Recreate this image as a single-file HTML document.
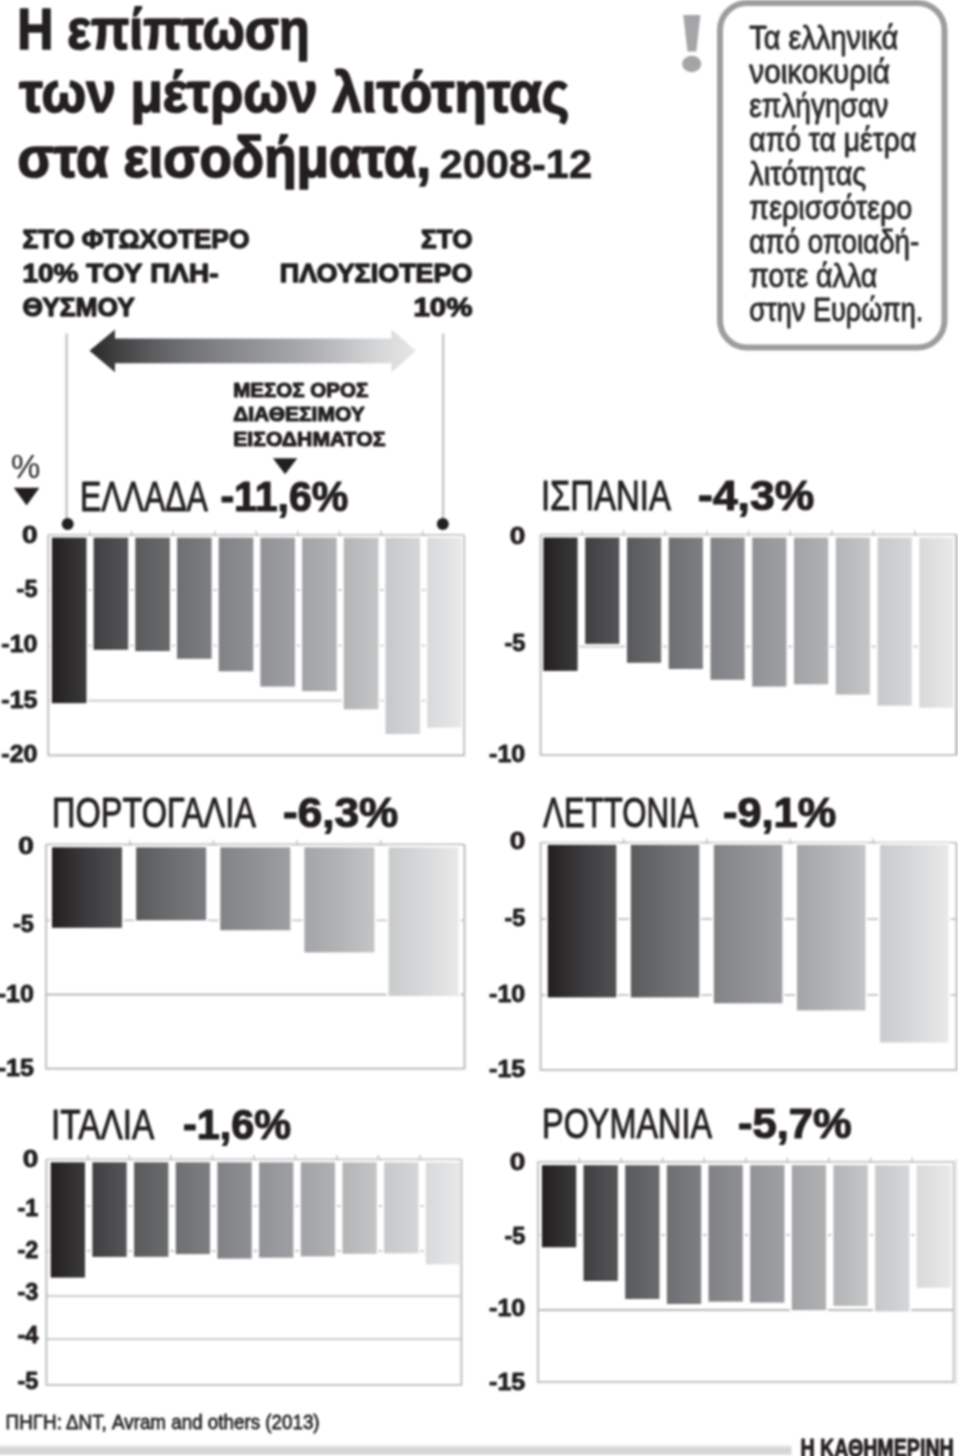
<!DOCTYPE html>
<html lang="el">
<head>
<meta charset="utf-8">
<title>Η επίπτωση των μέτρων λιτότητας στα εισοδήματα, 2008-12</title>
<style>
html,body{margin:0;padding:0;background:#fff;}
body{width:958px;height:1456px;overflow:hidden;}
svg{display:block;font-family:"Liberation Sans", "DejaVu Sans", sans-serif;}
text{white-space:pre;}
</style>
</head>
<body>
<svg width="958" height="1456" viewBox="0 0 958 1456">
<defs>
<linearGradient id="g_gr" gradientUnits="userSpaceOnUse" x1="51.9" y1="0" x2="461.8" y2="0">
<stop offset="0.0" stop-color="#231f20"/>
<stop offset="0.1" stop-color="#3f3f41"/>
<stop offset="0.2" stop-color="#58595b"/>
<stop offset="0.3" stop-color="#6d6e70"/>
<stop offset="0.4" stop-color="#808184"/>
<stop offset="0.5" stop-color="#909194"/>
<stop offset="0.6" stop-color="#a0a1a4"/>
<stop offset="0.7" stop-color="#b1b2b4"/>
<stop offset="0.8" stop-color="#c5c6c8"/>
<stop offset="0.9" stop-color="#d5d6d7"/>
<stop offset="1.0" stop-color="#e9e9ea"/>
</linearGradient>
<linearGradient id="g_es" gradientUnits="userSpaceOnUse" x1="543.4" y1="0" x2="953.5" y2="0">
<stop offset="0.0" stop-color="#231f20"/>
<stop offset="0.1" stop-color="#3f3f41"/>
<stop offset="0.2" stop-color="#58595b"/>
<stop offset="0.3" stop-color="#6d6e70"/>
<stop offset="0.4" stop-color="#808184"/>
<stop offset="0.5" stop-color="#909194"/>
<stop offset="0.6" stop-color="#a0a1a4"/>
<stop offset="0.7" stop-color="#b1b2b4"/>
<stop offset="0.8" stop-color="#c5c6c8"/>
<stop offset="0.9" stop-color="#d5d6d7"/>
<stop offset="1.0" stop-color="#e9e9ea"/>
</linearGradient>
<linearGradient id="g_pt" gradientUnits="userSpaceOnUse" x1="52.0" y1="0" x2="458.6" y2="0">
<stop offset="0.0" stop-color="#231f20"/>
<stop offset="0.1" stop-color="#3f3f41"/>
<stop offset="0.2" stop-color="#58595b"/>
<stop offset="0.3" stop-color="#6d6e70"/>
<stop offset="0.4" stop-color="#808184"/>
<stop offset="0.5" stop-color="#909194"/>
<stop offset="0.6" stop-color="#a0a1a4"/>
<stop offset="0.7" stop-color="#b1b2b4"/>
<stop offset="0.8" stop-color="#c5c6c8"/>
<stop offset="0.9" stop-color="#d5d6d7"/>
<stop offset="1.0" stop-color="#e9e9ea"/>
</linearGradient>
<linearGradient id="g_lv" gradientUnits="userSpaceOnUse" x1="547.8" y1="0" x2="948.5" y2="0">
<stop offset="0.0" stop-color="#231f20"/>
<stop offset="0.1" stop-color="#3f3f41"/>
<stop offset="0.2" stop-color="#58595b"/>
<stop offset="0.3" stop-color="#6d6e70"/>
<stop offset="0.4" stop-color="#808184"/>
<stop offset="0.5" stop-color="#909194"/>
<stop offset="0.6" stop-color="#a0a1a4"/>
<stop offset="0.7" stop-color="#b1b2b4"/>
<stop offset="0.8" stop-color="#c5c6c8"/>
<stop offset="0.9" stop-color="#d5d6d7"/>
<stop offset="1.0" stop-color="#e9e9ea"/>
</linearGradient>
<linearGradient id="g_it" gradientUnits="userSpaceOnUse" x1="50.7" y1="0" x2="460.1" y2="0">
<stop offset="0.0" stop-color="#231f20"/>
<stop offset="0.1" stop-color="#3f3f41"/>
<stop offset="0.2" stop-color="#58595b"/>
<stop offset="0.3" stop-color="#6d6e70"/>
<stop offset="0.4" stop-color="#808184"/>
<stop offset="0.5" stop-color="#909194"/>
<stop offset="0.6" stop-color="#a0a1a4"/>
<stop offset="0.7" stop-color="#b1b2b4"/>
<stop offset="0.8" stop-color="#c5c6c8"/>
<stop offset="0.9" stop-color="#d5d6d7"/>
<stop offset="1.0" stop-color="#e9e9ea"/>
</linearGradient>
<linearGradient id="g_ro" gradientUnits="userSpaceOnUse" x1="541.9" y1="0" x2="951.0" y2="0">
<stop offset="0.0" stop-color="#231f20"/>
<stop offset="0.1" stop-color="#3f3f41"/>
<stop offset="0.2" stop-color="#58595b"/>
<stop offset="0.3" stop-color="#6d6e70"/>
<stop offset="0.4" stop-color="#808184"/>
<stop offset="0.5" stop-color="#909194"/>
<stop offset="0.6" stop-color="#a0a1a4"/>
<stop offset="0.7" stop-color="#b1b2b4"/>
<stop offset="0.8" stop-color="#c5c6c8"/>
<stop offset="0.9" stop-color="#d5d6d7"/>
<stop offset="1.0" stop-color="#e9e9ea"/>
</linearGradient>
<linearGradient id="g_arrow" gradientUnits="userSpaceOnUse" x1="89" y1="0" x2="416" y2="0">
<stop offset="0" stop-color="#2a2728"/><stop offset="0.1" stop-color="#444446"/><stop offset="0.2" stop-color="#5d5e60"/><stop offset="0.3" stop-color="#717274"/><stop offset="0.4" stop-color="#828386"/><stop offset="0.5" stop-color="#919295"/><stop offset="0.6" stop-color="#a0a1a4"/><stop offset="0.7" stop-color="#b1b2b4"/><stop offset="0.8" stop-color="#c5c6c8"/><stop offset="0.9" stop-color="#d8d9da"/><stop offset="1" stop-color="#e6e6e7"/>
</linearGradient>
<linearGradient id="g_foot" x1="0" y1="0" x2="0" y2="1">
<stop offset="0" stop-color="#f0f0f0"/><stop offset="0.45" stop-color="#d2d2d3"/><stop offset="1" stop-color="#dcdcdd"/>
</linearGradient>
<filter id="soft" filterUnits="userSpaceOnUse" x="-12" y="-12" width="982" height="1480" color-interpolation-filters="sRGB"><feGaussianBlur stdDeviation="0.8"/></filter>
</defs>
<g filter="url(#soft)">
<rect x="-12" y="-12" width="982" height="1480" fill="#ffffff"/>
<g id="title" font-weight="bold" fill="#231f20">
<text x="17.2" y="48.6" font-size="57" font-weight="bold" text-anchor="start" fill="#231f20" textLength="292.5" lengthAdjust="spacingAndGlyphs" stroke="#231f20" stroke-width="1.7" stroke-linejoin="round">Η επίπτωση</text>
<text x="19.3" y="112.0" font-size="57" font-weight="bold" text-anchor="start" fill="#231f20" textLength="550" lengthAdjust="spacingAndGlyphs" stroke="#231f20" stroke-width="1.7" stroke-linejoin="round">των μέτρων λιτότητας</text>
<text x="17.6" y="176.6" font-size="57" font-weight="bold" text-anchor="start" fill="#231f20" textLength="413.5" lengthAdjust="spacingAndGlyphs" stroke="#231f20" stroke-width="1.7" stroke-linejoin="round">στα εισοδήματα,</text>
<text x="439.6" y="178.2" font-size="40.5" font-weight="bold" text-anchor="start" fill="#231f20" textLength="152.5" lengthAdjust="spacingAndGlyphs" stroke="#231f20" stroke-width="0.6" stroke-linejoin="round">2008-12</text>
</g>
<g id="callout">
<rect x="720" y="3" width="224.5" height="344.6" rx="27" ry="27" fill="#fff" stroke="#9d9d9f" stroke-width="6"/>
<path d="M683.3 15 L700.4 15 L696.3 51.5 L687.5 51.5 Z" fill="#a5a5a8"/>
<ellipse cx="691.7" cy="64" rx="9.6" ry="8.2" fill="#a5a5a8"/>
<text x="749.3" y="49.4" font-size="32.4" font-weight="normal" text-anchor="start" fill="#2a2829" textLength="149" lengthAdjust="spacingAndGlyphs" stroke="#2a2829" stroke-width="0.9" stroke-linejoin="round">Τα ελληνικά</text>
<text x="749.3" y="83.32" font-size="32.4" font-weight="normal" text-anchor="start" fill="#2a2829" textLength="140.6" lengthAdjust="spacingAndGlyphs" stroke="#2a2829" stroke-width="0.9" stroke-linejoin="round">νοικοκυριά</text>
<text x="749.3" y="117.24" font-size="32.4" font-weight="normal" text-anchor="start" fill="#2a2829" textLength="139" lengthAdjust="spacingAndGlyphs" stroke="#2a2829" stroke-width="0.9" stroke-linejoin="round">επλήγησαν</text>
<text x="749.3" y="151.16" font-size="32.4" font-weight="normal" text-anchor="start" fill="#2a2829" textLength="167" lengthAdjust="spacingAndGlyphs" stroke="#2a2829" stroke-width="0.9" stroke-linejoin="round">από τα μέτρα</text>
<text x="749.3" y="185.08" font-size="32.4" font-weight="normal" text-anchor="start" fill="#2a2829" textLength="117" lengthAdjust="spacingAndGlyphs" stroke="#2a2829" stroke-width="0.9" stroke-linejoin="round">λιτότητας</text>
<text x="749.3" y="219.0" font-size="32.4" font-weight="normal" text-anchor="start" fill="#2a2829" textLength="163" lengthAdjust="spacingAndGlyphs" stroke="#2a2829" stroke-width="0.9" stroke-linejoin="round">περισσότερο</text>
<text x="749.3" y="252.92" font-size="32.4" font-weight="normal" text-anchor="start" fill="#2a2829" textLength="170" lengthAdjust="spacingAndGlyphs" stroke="#2a2829" stroke-width="0.9" stroke-linejoin="round">από οποιαδή-</text>
<text x="749.3" y="286.84" font-size="32.4" font-weight="normal" text-anchor="start" fill="#2a2829" textLength="128" lengthAdjust="spacingAndGlyphs" stroke="#2a2829" stroke-width="0.9" stroke-linejoin="round">ποτε άλλα</text>
<text x="749.3" y="320.76" font-size="32.4" font-weight="normal" text-anchor="start" fill="#2a2829" textLength="174" lengthAdjust="spacingAndGlyphs" stroke="#2a2829" stroke-width="0.9" stroke-linejoin="round">στην Ευρώπη.</text>
</g>
<g id="legend">
<text x="22.5" y="248.2" font-size="25.8" font-weight="bold" text-anchor="start" fill="#231f20" textLength="227" lengthAdjust="spacingAndGlyphs" stroke="#231f20" stroke-width="1.3" stroke-linejoin="round">ΣΤΟ ΦΤΩΧΟΤΕΡΟ</text>
<text x="22.5" y="282.4" font-size="25.8" font-weight="bold" text-anchor="start" fill="#231f20" textLength="196" lengthAdjust="spacingAndGlyphs" stroke="#231f20" stroke-width="1.3" stroke-linejoin="round">10% ΤΟΥ ΠΛΗ-</text>
<text x="22.5" y="316.4" font-size="25.8" font-weight="bold" text-anchor="start" fill="#231f20" textLength="112.3" lengthAdjust="spacingAndGlyphs" stroke="#231f20" stroke-width="1.3" stroke-linejoin="round">ΘΥΣΜΟΥ</text>
<text x="472.4" y="248.2" font-size="25.8" font-weight="bold" text-anchor="end" fill="#231f20" textLength="51.3" lengthAdjust="spacingAndGlyphs" stroke="#231f20" stroke-width="1.3" stroke-linejoin="round">ΣΤΟ</text>
<text x="472.4" y="282.4" font-size="25.8" font-weight="bold" text-anchor="end" fill="#231f20" textLength="192.6" lengthAdjust="spacingAndGlyphs" stroke="#231f20" stroke-width="1.3" stroke-linejoin="round">ΠΛΟΥΣΙΟΤΕΡΟ</text>
<text x="472.4" y="316.4" font-size="25.8" font-weight="bold" text-anchor="end" fill="#231f20" textLength="59" lengthAdjust="spacingAndGlyphs" stroke="#231f20" stroke-width="1.3" stroke-linejoin="round">10%</text>
<line x1="66.6" y1="333.5" x2="66.6" y2="523" stroke="#c2c3c5" stroke-width="2.4"/>
<line x1="443.1" y1="333.5" x2="443.1" y2="523" stroke="#c2c3c5" stroke-width="2.4"/>
<circle cx="67.7" cy="524.1" r="6" fill="#231f20"/>
<circle cx="442.8" cy="524.1" r="6" fill="#231f20"/>
<path d="M89.5 350.8 L115 329.5 L115 338.5 L391.5 338.5 L391.5 329.5 L416 350.8 L391.5 372.2 L391.5 363.2 L115 363.2 L115 372.2 Z" fill="url(#g_arrow)"/>
<text x="233.2" y="396.7" font-size="20.3" font-weight="bold" text-anchor="start" fill="#231f20" textLength="135.2" lengthAdjust="spacingAndGlyphs" stroke="#231f20" stroke-width="1.1" stroke-linejoin="round">ΜΕΣΟΣ ΟΡΟΣ</text>
<text x="233.2" y="421.2" font-size="20.3" font-weight="bold" text-anchor="start" fill="#231f20" textLength="131.5" lengthAdjust="spacingAndGlyphs" stroke="#231f20" stroke-width="1.1" stroke-linejoin="round">ΔΙΑΘΕΣΙΜΟΥ</text>
<text x="233.2" y="446.2" font-size="20.3" font-weight="bold" text-anchor="start" fill="#231f20" textLength="152.2" lengthAdjust="spacingAndGlyphs" stroke="#231f20" stroke-width="1.1" stroke-linejoin="round">ΕΙΣΟΔΗΜΑΤΟΣ</text>
<path d="M272.9 458.2 L297.3 458.2 L285.1 474.2 Z" fill="#231f20"/>
<text x="11.0" y="478.4" font-size="34" font-weight="normal" text-anchor="start" fill="#231f20" textLength="29.3" lengthAdjust="spacingAndGlyphs">%</text>
<path d="M13.8 487.8 L39.4 487.8 L26.6 505.4 Z" fill="#231f20"/>
</g>
<g id="chart-titles">
<text x="79.9" y="510.6" font-size="43.2" font-weight="normal" text-anchor="start" fill="#231f20" textLength="128.0" lengthAdjust="spacingAndGlyphs" stroke="#231f20" stroke-width="1.0" stroke-linejoin="round">ΕΛΛΑΔΑ</text>
<text x="220.4" y="510.6" font-size="42" font-weight="bold" text-anchor="start" fill="#231f20" textLength="127.9" lengthAdjust="spacingAndGlyphs" stroke="#231f20" stroke-width="1.2" stroke-linejoin="round">-11,6%</text>
<text x="540.9" y="510.0" font-size="43.2" font-weight="normal" text-anchor="start" fill="#231f20" textLength="130.0" lengthAdjust="spacingAndGlyphs" stroke="#231f20" stroke-width="1.0" stroke-linejoin="round">ΙΣΠΑΝΙΑ</text>
<text x="698.1" y="510.0" font-size="42" font-weight="bold" text-anchor="start" fill="#231f20" textLength="116.1" lengthAdjust="spacingAndGlyphs" stroke="#231f20" stroke-width="1.2" stroke-linejoin="round">-4,3%</text>
<text x="52.1" y="826.6" font-size="43.2" font-weight="normal" text-anchor="start" fill="#231f20" textLength="203.9" lengthAdjust="spacingAndGlyphs" stroke="#231f20" stroke-width="1.0" stroke-linejoin="round">ΠΟΡΤΟΓΑΛΙΑ</text>
<text x="283.0" y="826.6" font-size="42" font-weight="bold" text-anchor="start" fill="#231f20" textLength="115.3" lengthAdjust="spacingAndGlyphs" stroke="#231f20" stroke-width="1.2" stroke-linejoin="round">-6,3%</text>
<text x="543.1" y="826.6" font-size="43.2" font-weight="normal" text-anchor="start" fill="#231f20" textLength="155.3" lengthAdjust="spacingAndGlyphs" stroke="#231f20" stroke-width="1.0" stroke-linejoin="round">ΛΕΤΤΟΝΙΑ</text>
<text x="723.0" y="826.6" font-size="42" font-weight="bold" text-anchor="start" fill="#231f20" textLength="113.2" lengthAdjust="spacingAndGlyphs" stroke="#231f20" stroke-width="1.2" stroke-linejoin="round">-9,1%</text>
<text x="51.1" y="1138.6" font-size="43.2" font-weight="normal" text-anchor="start" fill="#231f20" textLength="103.2" lengthAdjust="spacingAndGlyphs" stroke="#231f20" stroke-width="1.0" stroke-linejoin="round">ΙΤΑΛΙΑ</text>
<text x="182.9" y="1138.6" font-size="42" font-weight="bold" text-anchor="start" fill="#231f20" textLength="108.2" lengthAdjust="spacingAndGlyphs" stroke="#231f20" stroke-width="1.2" stroke-linejoin="round">-1,6%</text>
<text x="542.1" y="1137.8" font-size="43.2" font-weight="normal" text-anchor="start" fill="#231f20" textLength="169.9" lengthAdjust="spacingAndGlyphs" stroke="#231f20" stroke-width="1.0" stroke-linejoin="round">ΡΟΥΜΑΝΙΑ</text>
<text x="738.0" y="1137.8" font-size="42" font-weight="bold" text-anchor="start" fill="#231f20" textLength="113.6" lengthAdjust="spacingAndGlyphs" stroke="#231f20" stroke-width="1.2" stroke-linejoin="round">-5,7%</text>
</g>
<g id="chart-gr">
<line x1="48.3" y1="535" x2="464.2" y2="535" stroke="#c0c1c3" stroke-width="1.8"/>
<line x1="48.3" y1="590" x2="464.2" y2="590" stroke="#c5c6c8" stroke-width="1.8"/>
<line x1="48.3" y1="645.7" x2="464.2" y2="645.7" stroke="#c5c6c8" stroke-width="1.8"/>
<line x1="48.3" y1="700.6" x2="464.2" y2="700.6" stroke="#c5c6c8" stroke-width="1.8"/>
<line x1="48.3" y1="755.3" x2="464.2" y2="755.3" stroke="#c0c1c3" stroke-width="1.8"/>
<line x1="48.30" y1="535" x2="48.30" y2="755.3" stroke="#c0c1c3" stroke-width="1.6"/>
<line x1="89.89" y1="530.8" x2="89.89" y2="536.0" stroke="#c0c1c3" stroke-width="1.5"/>
<line x1="131.48" y1="530.8" x2="131.48" y2="536.0" stroke="#c0c1c3" stroke-width="1.5"/>
<line x1="173.07" y1="530.8" x2="173.07" y2="536.0" stroke="#c0c1c3" stroke-width="1.5"/>
<line x1="214.66" y1="530.8" x2="214.66" y2="536.0" stroke="#c0c1c3" stroke-width="1.5"/>
<line x1="256.25" y1="530.8" x2="256.25" y2="536.0" stroke="#c0c1c3" stroke-width="1.5"/>
<line x1="297.84" y1="530.8" x2="297.84" y2="536.0" stroke="#c0c1c3" stroke-width="1.5"/>
<line x1="339.43" y1="530.8" x2="339.43" y2="536.0" stroke="#c0c1c3" stroke-width="1.5"/>
<line x1="381.02" y1="530.8" x2="381.02" y2="536.0" stroke="#c0c1c3" stroke-width="1.5"/>
<line x1="422.61" y1="530.8" x2="422.61" y2="536.0" stroke="#c0c1c3" stroke-width="1.5"/>
<line x1="464.20" y1="535" x2="464.20" y2="755.3" stroke="#c0c1c3" stroke-width="1.6"/>
<rect x="51.90" y="537.6" width="34.6" height="165.6" fill="url(#g_gr)" stroke="#fff" stroke-width="4.0" paint-order="stroke"/>
<rect x="93.60" y="537.6" width="34.6" height="112.2" fill="url(#g_gr)" stroke="#fff" stroke-width="4.0" paint-order="stroke"/>
<rect x="135.30" y="537.6" width="34.6" height="113.5" fill="url(#g_gr)" stroke="#fff" stroke-width="4.0" paint-order="stroke"/>
<rect x="177.00" y="537.6" width="34.6" height="121.2" fill="url(#g_gr)" stroke="#fff" stroke-width="4.0" paint-order="stroke"/>
<rect x="218.70" y="537.6" width="34.6" height="133.7" fill="url(#g_gr)" stroke="#fff" stroke-width="4.0" paint-order="stroke"/>
<rect x="260.40" y="537.6" width="34.6" height="149.0" fill="url(#g_gr)" stroke="#fff" stroke-width="4.0" paint-order="stroke"/>
<rect x="302.10" y="537.6" width="34.6" height="153.5" fill="url(#g_gr)" stroke="#fff" stroke-width="4.0" paint-order="stroke"/>
<rect x="343.80" y="537.6" width="34.6" height="171.7" fill="url(#g_gr)" stroke="#fff" stroke-width="4.0" paint-order="stroke"/>
<rect x="385.50" y="537.6" width="34.6" height="196.4" fill="url(#g_gr)" stroke="#fff" stroke-width="4.0" paint-order="stroke"/>
<rect x="427.20" y="537.6" width="34.6" height="190.0" fill="url(#g_gr)" stroke="#fff" stroke-width="4.0" paint-order="stroke"/>
<line x1="48.3" y1="535" x2="48.3" y2="755.3" stroke="#c0c1c3" stroke-width="1.8"/>
<line x1="464.2" y1="535" x2="464.2" y2="755.3" stroke="#c0c1c3" stroke-width="1.8"/>
<line x1="47.4" y1="755.3" x2="465.09999999999997" y2="755.3" stroke="#c0c1c3" stroke-width="1.8"/>
<text x="37.5" y="542.6" font-size="23.5" font-weight="bold" text-anchor="end" fill="#231f20" textLength="15.6" lengthAdjust="spacingAndGlyphs" stroke="#231f20" stroke-width="0.9" stroke-linejoin="round">0</text>
<text x="37.5" y="596.6" font-size="23.5" font-weight="bold" text-anchor="end" fill="#231f20" stroke="#231f20" stroke-width="0.9" stroke-linejoin="round">-5</text>
<text x="37.5" y="651.5" font-size="23.5" font-weight="bold" text-anchor="end" fill="#231f20" textLength="36.2" lengthAdjust="spacingAndGlyphs" stroke="#231f20" stroke-width="0.9" stroke-linejoin="round">-10</text>
<text x="37.5" y="707.8" font-size="23.5" font-weight="bold" text-anchor="end" fill="#231f20" textLength="36.2" lengthAdjust="spacingAndGlyphs" stroke="#231f20" stroke-width="0.9" stroke-linejoin="round">-15</text>
<text x="37.5" y="762.3" font-size="23.5" font-weight="bold" text-anchor="end" fill="#231f20" textLength="36.2" lengthAdjust="spacingAndGlyphs" stroke="#231f20" stroke-width="0.9" stroke-linejoin="round">-20</text>
</g>
<g id="chart-es">
<line x1="540.6" y1="534.6" x2="956.6" y2="534.6" stroke="#c0c1c3" stroke-width="1.8"/>
<line x1="540.6" y1="646.5" x2="956.6" y2="646.5" stroke="#c5c6c8" stroke-width="1.8"/>
<line x1="540.6" y1="754.8" x2="956.6" y2="754.8" stroke="#c0c1c3" stroke-width="1.8"/>
<line x1="540.60" y1="534.6" x2="540.60" y2="754.8" stroke="#c0c1c3" stroke-width="1.6"/>
<line x1="582.20" y1="530.4" x2="582.20" y2="535.6" stroke="#c0c1c3" stroke-width="1.5"/>
<line x1="623.80" y1="530.4" x2="623.80" y2="535.6" stroke="#c0c1c3" stroke-width="1.5"/>
<line x1="665.40" y1="530.4" x2="665.40" y2="535.6" stroke="#c0c1c3" stroke-width="1.5"/>
<line x1="707.00" y1="530.4" x2="707.00" y2="535.6" stroke="#c0c1c3" stroke-width="1.5"/>
<line x1="748.60" y1="530.4" x2="748.60" y2="535.6" stroke="#c0c1c3" stroke-width="1.5"/>
<line x1="790.20" y1="530.4" x2="790.20" y2="535.6" stroke="#c0c1c3" stroke-width="1.5"/>
<line x1="831.80" y1="530.4" x2="831.80" y2="535.6" stroke="#c0c1c3" stroke-width="1.5"/>
<line x1="873.40" y1="530.4" x2="873.40" y2="535.6" stroke="#c0c1c3" stroke-width="1.5"/>
<line x1="915.00" y1="530.4" x2="915.00" y2="535.6" stroke="#c0c1c3" stroke-width="1.5"/>
<line x1="956.60" y1="534.6" x2="956.60" y2="754.8" stroke="#c0c1c3" stroke-width="2.8"/>
<rect x="543.40" y="537.5" width="34.2" height="133.4" fill="url(#g_es)" stroke="#fff" stroke-width="4.0" paint-order="stroke"/>
<rect x="585.17" y="537.5" width="34.2" height="106.4" fill="url(#g_es)" stroke="#fff" stroke-width="4.0" paint-order="stroke"/>
<rect x="626.94" y="537.5" width="34.2" height="125.3" fill="url(#g_es)" stroke="#fff" stroke-width="4.0" paint-order="stroke"/>
<rect x="668.71" y="537.5" width="34.2" height="131.5" fill="url(#g_es)" stroke="#fff" stroke-width="4.0" paint-order="stroke"/>
<rect x="710.48" y="537.5" width="34.2" height="142.3" fill="url(#g_es)" stroke="#fff" stroke-width="4.0" paint-order="stroke"/>
<rect x="752.25" y="537.5" width="34.2" height="149.1" fill="url(#g_es)" stroke="#fff" stroke-width="4.0" paint-order="stroke"/>
<rect x="794.02" y="537.5" width="34.2" height="146.8" fill="url(#g_es)" stroke="#fff" stroke-width="4.0" paint-order="stroke"/>
<rect x="835.79" y="537.5" width="34.2" height="157.1" fill="url(#g_es)" stroke="#fff" stroke-width="4.0" paint-order="stroke"/>
<rect x="877.56" y="537.5" width="34.2" height="168.1" fill="url(#g_es)" stroke="#fff" stroke-width="4.0" paint-order="stroke"/>
<rect x="919.33" y="537.5" width="34.2" height="170.3" fill="url(#g_es)" stroke="#fff" stroke-width="4.0" paint-order="stroke"/>
<line x1="540.6" y1="534.6" x2="540.6" y2="754.8" stroke="#c0c1c3" stroke-width="1.8"/>
<line x1="956.6" y1="534.6" x2="956.6" y2="754.8" stroke="#c0c1c3" stroke-width="2.8"/>
<line x1="539.7" y1="754.8" x2="957.5" y2="754.8" stroke="#c0c1c3" stroke-width="1.8"/>
<text x="525.3" y="543.5" font-size="23.5" font-weight="bold" text-anchor="end" fill="#231f20" textLength="15.6" lengthAdjust="spacingAndGlyphs" stroke="#231f20" stroke-width="0.9" stroke-linejoin="round">0</text>
<text x="525.3" y="651.1" font-size="23.5" font-weight="bold" text-anchor="end" fill="#231f20" stroke="#231f20" stroke-width="0.9" stroke-linejoin="round">-5</text>
<text x="525.3" y="761.8" font-size="23.5" font-weight="bold" text-anchor="end" fill="#231f20" textLength="36.2" lengthAdjust="spacingAndGlyphs" stroke="#231f20" stroke-width="0.9" stroke-linejoin="round">-10</text>
</g>
<g id="chart-pt">
<line x1="46.2" y1="844.5" x2="464.5" y2="844.5" stroke="#c0c1c3" stroke-width="1.8"/>
<line x1="46.2" y1="920.3" x2="464.5" y2="920.3" stroke="#c5c6c8" stroke-width="1.8"/>
<line x1="46.2" y1="994.5" x2="464.5" y2="994.5" stroke="#b8b9bb" stroke-width="2.2"/>
<line x1="46.2" y1="1068.7" x2="464.5" y2="1068.7" stroke="#c0c1c3" stroke-width="1.8"/>
<line x1="46.20" y1="844.5" x2="46.20" y2="1068.7" stroke="#c0c1c3" stroke-width="1.6"/>
<line x1="129.86" y1="840.3" x2="129.86" y2="845.5" stroke="#c0c1c3" stroke-width="1.5"/>
<line x1="213.52" y1="840.3" x2="213.52" y2="845.5" stroke="#c0c1c3" stroke-width="1.5"/>
<line x1="297.18" y1="840.3" x2="297.18" y2="845.5" stroke="#c0c1c3" stroke-width="1.5"/>
<line x1="380.84" y1="840.3" x2="380.84" y2="845.5" stroke="#c0c1c3" stroke-width="1.5"/>
<line x1="464.50" y1="844.5" x2="464.50" y2="1068.7" stroke="#c0c1c3" stroke-width="1.6"/>
<rect x="52.00" y="847.3" width="70.0" height="80.5" fill="url(#g_pt)" stroke="#fff" stroke-width="4.0" paint-order="stroke"/>
<rect x="136.15" y="847.3" width="70.0" height="73.0" fill="url(#g_pt)" stroke="#fff" stroke-width="4.0" paint-order="stroke"/>
<rect x="220.30" y="847.3" width="70.0" height="82.9" fill="url(#g_pt)" stroke="#fff" stroke-width="4.0" paint-order="stroke"/>
<rect x="304.45" y="847.3" width="70.0" height="105.1" fill="url(#g_pt)" stroke="#fff" stroke-width="4.0" paint-order="stroke"/>
<rect x="388.60" y="847.3" width="70.0" height="148.7" fill="url(#g_pt)" stroke="#fff" stroke-width="4.0" paint-order="stroke"/>
<line x1="46.2" y1="844.5" x2="46.2" y2="1068.7" stroke="#c0c1c3" stroke-width="1.8"/>
<line x1="464.5" y1="844.5" x2="464.5" y2="1068.7" stroke="#c0c1c3" stroke-width="1.8"/>
<line x1="45.300000000000004" y1="1068.7" x2="465.4" y2="1068.7" stroke="#c0c1c3" stroke-width="1.8"/>
<text x="33.9" y="853.5" font-size="23.5" font-weight="bold" text-anchor="end" fill="#231f20" textLength="15.6" lengthAdjust="spacingAndGlyphs" stroke="#231f20" stroke-width="0.9" stroke-linejoin="round">0</text>
<text x="33.9" y="931.6" font-size="23.5" font-weight="bold" text-anchor="end" fill="#231f20" stroke="#231f20" stroke-width="0.9" stroke-linejoin="round">-5</text>
<text x="33.9" y="1001.7" font-size="23.5" font-weight="bold" text-anchor="end" fill="#231f20" textLength="36.2" lengthAdjust="spacingAndGlyphs" stroke="#231f20" stroke-width="0.9" stroke-linejoin="round">-10</text>
<text x="33.9" y="1076.3" font-size="23.5" font-weight="bold" text-anchor="end" fill="#231f20" textLength="36.2" lengthAdjust="spacingAndGlyphs" stroke="#231f20" stroke-width="0.9" stroke-linejoin="round">-15</text>
</g>
<g id="chart-lv">
<line x1="540.6" y1="842.7" x2="956.5" y2="842.7" stroke="#c0c1c3" stroke-width="1.8"/>
<line x1="540.6" y1="919" x2="956.5" y2="919" stroke="#c5c6c8" stroke-width="1.8"/>
<line x1="540.6" y1="995" x2="956.5" y2="995" stroke="#c5c6c8" stroke-width="1.8"/>
<line x1="540.6" y1="1070" x2="956.5" y2="1070" stroke="#c0c1c3" stroke-width="1.8"/>
<line x1="540.60" y1="842.7" x2="540.60" y2="1070" stroke="#c0c1c3" stroke-width="1.6"/>
<line x1="623.78" y1="838.5" x2="623.78" y2="843.7" stroke="#c0c1c3" stroke-width="1.5"/>
<line x1="706.96" y1="838.5" x2="706.96" y2="843.7" stroke="#c0c1c3" stroke-width="1.5"/>
<line x1="790.14" y1="838.5" x2="790.14" y2="843.7" stroke="#c0c1c3" stroke-width="1.5"/>
<line x1="873.32" y1="838.5" x2="873.32" y2="843.7" stroke="#c0c1c3" stroke-width="1.5"/>
<line x1="956.50" y1="842.7" x2="956.50" y2="1070" stroke="#c0c1c3" stroke-width="1.6"/>
<rect x="547.80" y="844.8" width="68.5" height="152.6" fill="url(#g_lv)" stroke="#fff" stroke-width="4.0" paint-order="stroke"/>
<rect x="630.85" y="844.8" width="68.5" height="152.6" fill="url(#g_lv)" stroke="#fff" stroke-width="4.0" paint-order="stroke"/>
<rect x="713.90" y="844.8" width="68.5" height="158.5" fill="url(#g_lv)" stroke="#fff" stroke-width="4.0" paint-order="stroke"/>
<rect x="796.95" y="844.8" width="68.5" height="165.6" fill="url(#g_lv)" stroke="#fff" stroke-width="4.0" paint-order="stroke"/>
<rect x="880.00" y="844.8" width="68.5" height="197.7" fill="url(#g_lv)" stroke="#fff" stroke-width="4.0" paint-order="stroke"/>
<line x1="540.6" y1="842.7" x2="540.6" y2="1070" stroke="#c0c1c3" stroke-width="1.8"/>
<line x1="956.5" y1="842.7" x2="956.5" y2="1070" stroke="#c0c1c3" stroke-width="1.8"/>
<line x1="539.7" y1="1070" x2="957.4" y2="1070" stroke="#c0c1c3" stroke-width="1.8"/>
<text x="525.3" y="849.4" font-size="23.5" font-weight="bold" text-anchor="end" fill="#231f20" textLength="15.6" lengthAdjust="spacingAndGlyphs" stroke="#231f20" stroke-width="0.9" stroke-linejoin="round">0</text>
<text x="525.3" y="926.3" font-size="23.5" font-weight="bold" text-anchor="end" fill="#231f20" stroke="#231f20" stroke-width="0.9" stroke-linejoin="round">-5</text>
<text x="525.3" y="1001.7" font-size="23.5" font-weight="bold" text-anchor="end" fill="#231f20" textLength="36.2" lengthAdjust="spacingAndGlyphs" stroke="#231f20" stroke-width="0.9" stroke-linejoin="round">-10</text>
<text x="525.3" y="1076.7" font-size="23.5" font-weight="bold" text-anchor="end" fill="#231f20" textLength="36.2" lengthAdjust="spacingAndGlyphs" stroke="#231f20" stroke-width="0.9" stroke-linejoin="round">-15</text>
</g>
<g id="chart-it">
<line x1="46.4" y1="1159.3" x2="461.4" y2="1159.3" stroke="#c0c1c3" stroke-width="1.8"/>
<line x1="46.4" y1="1206" x2="461.4" y2="1206" stroke="#c5c6c8" stroke-width="1.8"/>
<line x1="46.4" y1="1251" x2="461.4" y2="1251" stroke="#c5c6c8" stroke-width="1.8"/>
<line x1="46.4" y1="1296.2" x2="461.4" y2="1296.2" stroke="#c5c6c8" stroke-width="1.8"/>
<line x1="46.4" y1="1339.2" x2="461.4" y2="1339.2" stroke="#c5c6c8" stroke-width="1.8"/>
<line x1="46.4" y1="1384.8" x2="461.4" y2="1384.8" stroke="#c0c1c3" stroke-width="1.8"/>
<line x1="46.40" y1="1159.3" x2="46.40" y2="1384.8" stroke="#c0c1c3" stroke-width="1.6"/>
<line x1="87.90" y1="1155.1" x2="87.90" y2="1160.3" stroke="#c0c1c3" stroke-width="1.5"/>
<line x1="129.40" y1="1155.1" x2="129.40" y2="1160.3" stroke="#c0c1c3" stroke-width="1.5"/>
<line x1="170.90" y1="1155.1" x2="170.90" y2="1160.3" stroke="#c0c1c3" stroke-width="1.5"/>
<line x1="212.40" y1="1155.1" x2="212.40" y2="1160.3" stroke="#c0c1c3" stroke-width="1.5"/>
<line x1="253.90" y1="1155.1" x2="253.90" y2="1160.3" stroke="#c0c1c3" stroke-width="1.5"/>
<line x1="295.40" y1="1155.1" x2="295.40" y2="1160.3" stroke="#c0c1c3" stroke-width="1.5"/>
<line x1="336.90" y1="1155.1" x2="336.90" y2="1160.3" stroke="#c0c1c3" stroke-width="1.5"/>
<line x1="378.40" y1="1155.1" x2="378.40" y2="1160.3" stroke="#c0c1c3" stroke-width="1.5"/>
<line x1="419.90" y1="1155.1" x2="419.90" y2="1160.3" stroke="#c0c1c3" stroke-width="1.5"/>
<line x1="461.40" y1="1159.3" x2="461.40" y2="1384.8" stroke="#c0c1c3" stroke-width="1.6"/>
<rect x="50.70" y="1162.3" width="34.3" height="115.3" fill="url(#g_it)" stroke="#fff" stroke-width="4.0" paint-order="stroke"/>
<rect x="92.38" y="1162.3" width="34.3" height="94.6" fill="url(#g_it)" stroke="#fff" stroke-width="4.0" paint-order="stroke"/>
<rect x="134.06" y="1162.3" width="34.3" height="94.5" fill="url(#g_it)" stroke="#fff" stroke-width="4.0" paint-order="stroke"/>
<rect x="175.74" y="1162.3" width="34.3" height="91.8" fill="url(#g_it)" stroke="#fff" stroke-width="4.0" paint-order="stroke"/>
<rect x="217.42" y="1162.3" width="34.3" height="96.3" fill="url(#g_it)" stroke="#fff" stroke-width="4.0" paint-order="stroke"/>
<rect x="259.10" y="1162.3" width="34.3" height="95.4" fill="url(#g_it)" stroke="#fff" stroke-width="4.0" paint-order="stroke"/>
<rect x="300.78" y="1162.3" width="34.3" height="94.1" fill="url(#g_it)" stroke="#fff" stroke-width="4.0" paint-order="stroke"/>
<rect x="342.46" y="1162.3" width="34.3" height="91.5" fill="url(#g_it)" stroke="#fff" stroke-width="4.0" paint-order="stroke"/>
<rect x="384.14" y="1162.3" width="34.3" height="91.0" fill="url(#g_it)" stroke="#fff" stroke-width="4.0" paint-order="stroke"/>
<rect x="425.82" y="1162.3" width="34.3" height="102.0" fill="url(#g_it)" stroke="#fff" stroke-width="4.0" paint-order="stroke"/>
<line x1="46.4" y1="1159.3" x2="46.4" y2="1384.8" stroke="#c0c1c3" stroke-width="1.8"/>
<line x1="461.4" y1="1159.3" x2="461.4" y2="1384.8" stroke="#c0c1c3" stroke-width="1.8"/>
<line x1="45.5" y1="1384.8" x2="462.29999999999995" y2="1384.8" stroke="#c0c1c3" stroke-width="1.8"/>
<text x="38.4" y="1167.2" font-size="23.5" font-weight="bold" text-anchor="end" fill="#231f20" textLength="15.6" lengthAdjust="spacingAndGlyphs" stroke="#231f20" stroke-width="0.9" stroke-linejoin="round">0</text>
<text x="38.4" y="1216.3" font-size="23.5" font-weight="bold" text-anchor="end" fill="#231f20" stroke="#231f20" stroke-width="0.9" stroke-linejoin="round">-1</text>
<text x="38.4" y="1257.8" font-size="23.5" font-weight="bold" text-anchor="end" fill="#231f20" stroke="#231f20" stroke-width="0.9" stroke-linejoin="round">-2</text>
<text x="38.4" y="1300.2" font-size="23.5" font-weight="bold" text-anchor="end" fill="#231f20" stroke="#231f20" stroke-width="0.9" stroke-linejoin="round">-3</text>
<text x="38.4" y="1343.1" font-size="23.5" font-weight="bold" text-anchor="end" fill="#231f20" stroke="#231f20" stroke-width="0.9" stroke-linejoin="round">-4</text>
<text x="38.4" y="1389.4" font-size="23.5" font-weight="bold" text-anchor="end" fill="#231f20" stroke="#231f20" stroke-width="0.9" stroke-linejoin="round">-5</text>
</g>
<g id="chart-ro">
<line x1="537.9" y1="1161.8" x2="953.7" y2="1161.8" stroke="#c0c1c3" stroke-width="1.8"/>
<line x1="537.9" y1="1235" x2="953.7" y2="1235" stroke="#c5c6c8" stroke-width="1.8"/>
<line x1="537.9" y1="1310" x2="953.7" y2="1310" stroke="#b8b9bb" stroke-width="2.2"/>
<line x1="537.9" y1="1382.2" x2="953.7" y2="1382.2" stroke="#c0c1c3" stroke-width="1.8"/>
<line x1="537.90" y1="1161.8" x2="537.90" y2="1382.2" stroke="#c0c1c3" stroke-width="1.6"/>
<line x1="579.48" y1="1157.6" x2="579.48" y2="1162.8" stroke="#c0c1c3" stroke-width="1.5"/>
<line x1="621.06" y1="1157.6" x2="621.06" y2="1162.8" stroke="#c0c1c3" stroke-width="1.5"/>
<line x1="662.64" y1="1157.6" x2="662.64" y2="1162.8" stroke="#c0c1c3" stroke-width="1.5"/>
<line x1="704.22" y1="1157.6" x2="704.22" y2="1162.8" stroke="#c0c1c3" stroke-width="1.5"/>
<line x1="745.80" y1="1157.6" x2="745.80" y2="1162.8" stroke="#c0c1c3" stroke-width="1.5"/>
<line x1="787.38" y1="1157.6" x2="787.38" y2="1162.8" stroke="#c0c1c3" stroke-width="1.5"/>
<line x1="828.96" y1="1157.6" x2="828.96" y2="1162.8" stroke="#c0c1c3" stroke-width="1.5"/>
<line x1="870.54" y1="1157.6" x2="870.54" y2="1162.8" stroke="#c0c1c3" stroke-width="1.5"/>
<line x1="912.12" y1="1157.6" x2="912.12" y2="1162.8" stroke="#c0c1c3" stroke-width="1.5"/>
<line x1="953.70" y1="1161.8" x2="953.70" y2="1382.2" stroke="#c0c1c3" stroke-width="1.6"/>
<rect x="541.90" y="1165.2" width="34.3" height="82.1" fill="url(#g_ro)" stroke="#fff" stroke-width="4.0" paint-order="stroke"/>
<rect x="583.55" y="1165.2" width="34.3" height="115.8" fill="url(#g_ro)" stroke="#fff" stroke-width="4.0" paint-order="stroke"/>
<rect x="625.20" y="1165.2" width="34.3" height="133.8" fill="url(#g_ro)" stroke="#fff" stroke-width="4.0" paint-order="stroke"/>
<rect x="666.85" y="1165.2" width="34.3" height="138.8" fill="url(#g_ro)" stroke="#fff" stroke-width="4.0" paint-order="stroke"/>
<rect x="708.50" y="1165.2" width="34.3" height="136.5" fill="url(#g_ro)" stroke="#fff" stroke-width="4.0" paint-order="stroke"/>
<rect x="750.15" y="1165.2" width="34.3" height="137.4" fill="url(#g_ro)" stroke="#fff" stroke-width="4.0" paint-order="stroke"/>
<rect x="791.80" y="1165.2" width="34.3" height="145.0" fill="url(#g_ro)" stroke="#fff" stroke-width="4.0" paint-order="stroke"/>
<rect x="833.45" y="1165.2" width="34.3" height="140.8" fill="url(#g_ro)" stroke="#fff" stroke-width="4.0" paint-order="stroke"/>
<rect x="875.10" y="1165.2" width="34.3" height="146.3" fill="url(#g_ro)" stroke="#fff" stroke-width="4.0" paint-order="stroke"/>
<rect x="916.75" y="1165.2" width="34.3" height="122.6" fill="url(#g_ro)" stroke="#fff" stroke-width="4.0" paint-order="stroke"/>
<line x1="537.9" y1="1161.8" x2="537.9" y2="1382.2" stroke="#c0c1c3" stroke-width="1.8"/>
<line x1="953.7" y1="1161.8" x2="953.7" y2="1382.2" stroke="#c0c1c3" stroke-width="1.8"/>
<line x1="537.0" y1="1382.2" x2="954.6" y2="1382.2" stroke="#c0c1c3" stroke-width="1.8"/>
<text x="525.3" y="1169.9" font-size="23.5" font-weight="bold" text-anchor="end" fill="#231f20" textLength="15.6" lengthAdjust="spacingAndGlyphs" stroke="#231f20" stroke-width="0.9" stroke-linejoin="round">0</text>
<text x="525.3" y="1243.5" font-size="23.5" font-weight="bold" text-anchor="end" fill="#231f20" stroke="#231f20" stroke-width="0.9" stroke-linejoin="round">-5</text>
<text x="525.3" y="1316.3" font-size="23.5" font-weight="bold" text-anchor="end" fill="#231f20" textLength="36.2" lengthAdjust="spacingAndGlyphs" stroke="#231f20" stroke-width="0.9" stroke-linejoin="round">-10</text>
<text x="525.3" y="1389.9" font-size="23.5" font-weight="bold" text-anchor="end" fill="#231f20" textLength="36.2" lengthAdjust="spacingAndGlyphs" stroke="#231f20" stroke-width="0.9" stroke-linejoin="round">-15</text>
</g>
<rect x="954.6" y="1159" width="3.4" height="225" fill="#eeeeef"/>
<g id="footer">
<text x="5.6" y="1428.8" font-size="20.8" font-weight="normal" text-anchor="start" fill="#2a2829" textLength="314" lengthAdjust="spacingAndGlyphs" stroke="#2a2829" stroke-width="0.8" stroke-linejoin="round">ΠΗΓΗ: ΔΝΤ, Avram and others (2013)</text>
<rect x="-6" y="1445" width="797.5" height="10" fill="url(#g_foot)"/>
<text x="800.4" y="1457.0" font-size="26.4" font-weight="bold" text-anchor="start" fill="#231f20" textLength="153.4" lengthAdjust="spacingAndGlyphs" stroke="#231f20" stroke-width="1.0" stroke-linejoin="round">Η ΚΑΘΗΜΕΡΙΝΗ</text>
</g>
</g>
</svg>
</body>
</html>
